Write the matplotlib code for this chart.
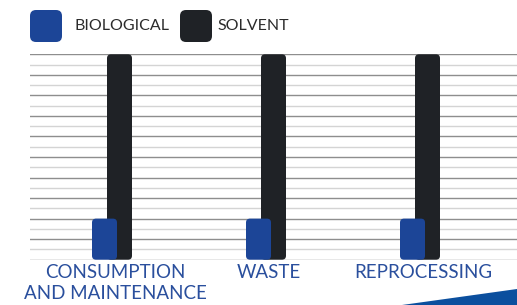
import matplotlib
matplotlib.use("Agg")
import matplotlib.pyplot as plt
from matplotlib.patches import FancyBboxPatch, Polygon

# data
categories = ["CONSUMPTION\nAND MAINTENANCE", "WASTE", "REPROCESSING"]
biological = [4, 4, 4]
solvent = [20, 20, 20]

blue = "#1c4597"
dark = "#1f2226"
label_blue = "#2a4f9d"

fig = plt.figure(figsize=(5.17, 3.05), dpi=100)
ax = fig.add_axes([30 / 517, 45.3 / 305, 487 / 517, 205.4 / 305])

# gridlines, alternating dark / light
for v in range(0, 21):
    ax.axhline(v, color="#8e8e8e" if v % 2 == 0 else "#d4d4d4", lw=1.0, zorder=0)

px_x = 1 / 154          # x data units per pixel
px_y = 20 / 205.4       # y data units per pixel
w = 25 * px_x
off = 7.5 * px_x
r = 4 * px_x
aspect = px_y / px_x

def rbar(x, h, color, z):
    p = FancyBboxPatch((x - w / 2, 0), w, h,
                       boxstyle="round,pad=0,rounding_size=%f" % r,
                       mutation_aspect=aspect, fc=color, ec="none", zorder=z)
    ax.add_patch(p)

for i in range(len(categories)):
    rbar(i + off, solvent[i], dark, 2)
    rbar(i - off, biological[i], blue, 3)

ax.set_xlim(-82 * px_x, 2 + 97 * px_x)
ax.set_ylim(0, 20)
ax.set_xticks([i + 0.02 for i in range(len(categories))])
ax.set_xticklabels(categories, fontsize=13.5, color=label_blue,
                   family="Lato", linespacing=1.3)
ax.tick_params(axis="x", length=0, pad=3)
ax.set_yticks([])
for s in ax.spines.values():
    s.set_visible(False)
ax.patch.set_alpha(0)

# legend, drawn in inches
tr = fig.dpi_scale_trans
for x0, col, txt, tx in [(0.30, blue, "BIOLOGICAL", 0.74), (1.80, dark, "SOLVENT", 2.17)]:
    fig.patches.append(FancyBboxPatch((x0, 2.63), 0.32, 0.32,
                                      boxstyle="round,pad=0,rounding_size=0.06",
                                      fc=col, ec="none", transform=tr, figure=fig))
    fig.text(tx, 2.79, txt, transform=tr, fontsize=11.5, color="#2b2b2b",
             family="Lato", va="center", ha="left")

# swoosh at bottom right
fig.patches.append(Polygon([(4.02, 0.0), (5.17, 0.16), (5.17, 0.0)], closed=True,
                           fc="#0b4f9e", ec="none", transform=tr, figure=fig))

fig.savefig("out.png", dpi=100)
